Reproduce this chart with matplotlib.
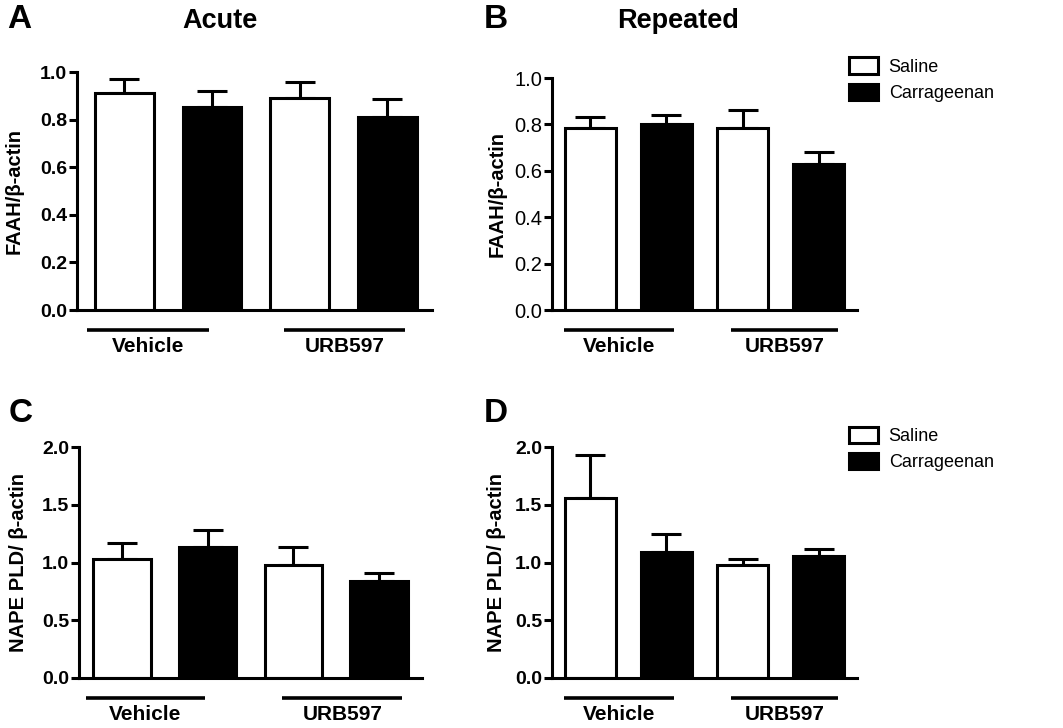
import matplotlib
matplotlib.use("Agg")
import matplotlib.pyplot as plt
import matplotlib.transforms as mtransforms
from matplotlib.patches import Patch

plt.rcParams["font.family"] = ["Liberation Sans", "DejaVu Sans"]

# bar order: Vehicle/Saline, Vehicle/Carrageenan, URB597/Saline, URB597/Carrageenan
groups = ["Vehicle", "URB597"]
treatments = ["Saline", "Carrageenan"]

faah_acute = [0.91, 0.855, 0.89, 0.81]
faah_acute_sem = [0.06, 0.065, 0.07, 0.075]
faah_repeated = [0.785, 0.80, 0.785, 0.63]
faah_repeated_sem = [0.045, 0.04, 0.075, 0.05]
nape_acute = [1.03, 1.13, 0.98, 0.84]
nape_acute_sem = [0.14, 0.15, 0.15, 0.07]
nape_repeated = [1.56, 1.09, 0.98, 1.06]
nape_repeated_sem = [0.37, 0.16, 0.05, 0.06]

FAAH_LABEL = "FAAH/β-actin"
NAPE_LABEL = "NAPE PLD/ β-actin"

panels = [
    # letter, title, values, sem, ylabel, ymax, step, rect, xlim, group spans, tick bold
    ("A", "Acute", faah_acute, faah_acute_sem, FAAH_LABEL, 1.0, 0.2,
     [77, 72, 432, 310], (-0.54, 3.51), [(-0.43, 0.97), (1.82, 3.2)], True),
    ("B", "Repeated", faah_repeated, faah_repeated_sem, FAAH_LABEL, 1.0, 0.2,
     [552, 78, 857, 310], (-0.5, 3.5), [(-0.34, 1.1), (1.85, 3.25)], False),
    ("C", None, nape_acute, nape_acute_sem, NAPE_LABEL, 2.0, 0.5,
     [79, 447, 422, 678], (-0.5, 3.5), [(-0.42, 0.97), (1.87, 3.27)], True),
    ("D", None, nape_repeated, nape_repeated_sem, NAPE_LABEL, 2.0, 0.5,
     [552, 447, 857, 678], (-0.5, 3.5), [(-0.34, 1.1), (1.85, 3.25)], True),
]

W, H = 1063, 728
fig = plt.figure(figsize=(W / 100, H / 100), dpi=100)
LW = 2.2

for letter, title, vals, sem, ylabel, ymax, step, rect, xlim, spans, tbold in panels:
    x0, y0, x1, y1 = rect
    ax = fig.add_axes([x0 / W, 1 - y1 / H, (x1 - x0) / W, (y1 - y0) / H])
    pos = list(range(len(vals)))
    colors = ["white", "black", "white", "black"]
    ax.bar(pos, vals, width=0.67, color=colors, edgecolor="black", linewidth=LW, zorder=2)
    ax.errorbar(pos, vals, yerr=[[0] * len(vals), sem], fmt="none", ecolor="black",
                elinewidth=LW, capsize=11, capthick=LW, zorder=1)
    ax.set_xlim(*xlim)
    ax.set_ylim(0, ymax)
    n = int(round(ymax / step))
    ticks = [i * step for i in range(n + 1)]
    ax.set_yticks(ticks)
    ax.set_yticklabels([f"{t:.1f}" for t in ticks], fontsize=14 if tbold else 14.5,
                       fontweight="bold" if tbold else "normal")
    ax.set_xticks([])
    for s in ["top", "right"]:
        ax.spines[s].set_visible(False)
    for s in ["left", "bottom"]:
        ax.spines[s].set_linewidth(LW)
    ax.tick_params(axis="y", direction="out", length=6, width=LW, pad=1)
    ax.set_ylabel(ylabel, fontsize=14.5, fontweight="bold")
    ax.yaxis.set_label_coords(-0.15, 0.5)

    trans = mtransforms.blended_transform_factory(ax.transData, ax.transAxes)
    off = 20 / (y1 - y0)
    txt_off = 36 / (y1 - y0)
    for g, (a, b) in zip(groups, spans):
        ax.plot([a, b], [-off, -off], color="black", linewidth=2.6, transform=trans,
                clip_on=False, solid_capstyle="butt")
        ax.text((a + b) / 2, -txt_off, g, transform=trans, ha="center", va="center",
                fontsize=15, fontweight="bold")

    fig.text((x0 - 70) / W if letter in "AC" else (x0 - 68) / W,
             1 - (20 if letter in "AB" else 414) / H,
             letter, fontsize=24, fontweight="bold", ha="left", va="center")
    if title:
        cx = 220 if letter == "A" else 678
        fig.text(cx / W, 1 - 21 / H, title, fontsize=19.5, fontweight="bold",
                 ha="center", va="center")

    if letter in "BD":
        handles = [Patch(facecolor=c, edgecolor="black", linewidth=LW, label=t)
                   for c, t in zip(["white", "black"], treatments)]
        leg = ax.legend(handles=handles, loc="upper left", bbox_to_anchor=(0.95, 1.12),
                        frameon=False, fontsize=13, handlelength=1.6, handleheight=1.0,
                        handletextpad=0.6, labelspacing=0.45, borderaxespad=0)

fig.savefig("out.png", dpi=100)
